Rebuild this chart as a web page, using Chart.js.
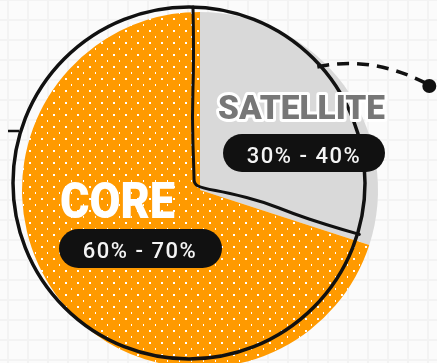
<!DOCTYPE html>
<html lang="en">
  <head>
    <meta charset="UTF-8" />
    <title>Core / Satellite</title>
    <style>
      html, body {
        margin: 0;
        padding: 0;
        overflow: hidden;
      }
      body {
        width: 437px;
        height: 363px;
        background-color: #fbfbfb;
        background-image:
          linear-gradient(to right, #f3f3f3 2px, transparent 2px),
          linear-gradient(to bottom, #f3f3f3 2px, transparent 2px);
        background-size: 20px 20px;
        background-position: 7px -1px;
      }
      .wrap {
        width: 437px;
        height: 380px;
      }
    </style>
  </head>
  <body>
    <div class="wrap">
      <canvas id="pie" width="437" height="380"></canvas>
    </div>
    <script src="https://cdn.jsdelivr.net/npm/chart.js"></script>
    <script>
      const labels = ["SATELLITE", "CORE"];
      const shares = [30, 70];
      const ranges = ["30% - 40%", "60% - 70%"];

      // white dot pattern for the orange slice
      function dotPattern() {
        const c = document.createElement("canvas");
        c.width = 12;
        c.height = 12;
        const g = c.getContext("2d");
        g.fillStyle = "#ff9a00";
        g.fillRect(0, 0, 12, 12);
        g.fillStyle = "#ffffff";
        g.fillRect(5, 6, 2, 2);
        g.fillRect(11, 0, 2, 2);
        return g.createPattern(c, "repeat");
      }

      function wobblyLine(ctx, pts) {
        ctx.beginPath();
        ctx.moveTo(pts[0][0], pts[0][1]);
        for (let i = 1; i < pts.length - 1; i++) {
          const mx = (pts[i][0] + pts[i + 1][0]) / 2;
          const my = (pts[i][1] + pts[i + 1][1]) / 2;
          ctx.quadraticCurveTo(pts[i][0], pts[i][1], mx, my);
        }
        const last = pts[pts.length - 1];
        ctx.lineTo(last[0], last[1]);
        ctx.stroke();
      }

      function fitText(ctx, text, x, y, width, fill, stroke) {
        const w = ctx.measureText(text).width;
        ctx.save();
        ctx.translate(x, y);
        ctx.scale(width / w, 1);
        if (stroke) {
          ctx.lineJoin = "round";
          ctx.strokeStyle = stroke;
          ctx.lineWidth = 6;
          ctx.strokeText(text, 0, 0);
        }
        ctx.fillStyle = fill;
        ctx.fillText(text, 0, 0);
        ctx.restore();
      }

      function pill(ctx, x, y, w, h) {
        ctx.beginPath();
        ctx.roundRect(x, y, w, h, h / 2);
        ctx.fillStyle = "#111";
        ctx.fill();
      }

      const sketch = {
        id: "sketch",
        afterDatasetsDraw(chart) {
          const ctx = chart.ctx;
          const arcs = chart.getDatasetMeta(0).data;
          const sat = arcs[0].getProps(["x", "y", "outerRadius", "startAngle", "endAngle"], true);
          const cx = sat.x - 11;
          const cy = sat.y - 7;
          const r = sat.outerRadius - 2;

          ctx.save();
          ctx.strokeStyle = "#111";
          ctx.lineCap = "round";
          ctx.lineJoin = "round";

          // outline
          ctx.lineWidth = 3.5;
          ctx.beginPath();
          ctx.arc(cx, cy, r, 0, Math.PI * 2);
          ctx.stroke();

          // dividers
          const hubX = cx + 5;
          const hubY = cy + 1;
          const topX = cx + r * Math.cos(sat.startAngle) + 4;
          const topY = cy + r * Math.sin(sat.startAngle);
          const endX = cx + r * Math.cos(sat.endAngle) + 3;
          const endY = cy + r * Math.sin(sat.endAngle) - 3;
          ctx.lineWidth = 3;
          wobblyLine(ctx, [
            [topX, topY],
            [topX + 1, topY + 50],
            [topX - 1, topY + 110],
            [hubX, hubY - 10],
            [hubX, hubY],
            [hubX + 8, hubY + 4],
            [hubX + 35, hubY + 9],
            [hubX + 70, hubY + 18],
            [hubX + 100, hubY + 30],
            [hubX + 130, hubY + 40],
            [endX, endY]
          ]);

          // connector from the satellite slice
          const a = -0.72;
          const sx = cx + r * Math.cos(a);
          const sy = cy + r * Math.sin(a);
          ctx.lineWidth = 3.5;
          ctx.lineCap = "butt";
          ctx.setLineDash([12, 8]);
          ctx.beginPath();
          ctx.moveTo(sx - 4, sy);
          ctx.quadraticCurveTo(sx + 50, sy - 12, sx + 106, sy + 17);
          ctx.stroke();
          ctx.setLineDash([]);
          ctx.fillStyle = "#111";
          ctx.beginPath();
          ctx.arc(sx + 108, sy + 19, 7, 0, Math.PI * 2);
          ctx.fill();

          // little tick on the left
          ctx.lineWidth = 2.5;
          ctx.beginPath();
          ctx.moveTo(8, 131);
          ctx.lineTo(19, 131);
          ctx.stroke();

          // labels
          const x0 = sat.x;
          const y0 = sat.y;
          ctx.textBaseline = "alphabetic";
          ctx.font = "900 34px Roboto";
          fitText(ctx, labels[0], x0 + 18, y0 - 71, 167, "#777777", "#ffffff");
          ctx.font = "900 50px Roboto";
          fitText(ctx, labels[1], x0 - 140, y0 + 28, 115, "#ffffff", null);

          pill(ctx, x0 + 23, y0 - 56, 162, 38);
          pill(ctx, x0 - 141, y0 + 39, 163, 39);
          ctx.font = "500 22px Roboto";
          ctx.letterSpacing = "1.5px";
          ctx.textAlign = "center";
          ctx.fillStyle = "#f4f4f4";
          ctx.fillText(ranges[0], x0 + 104, y0 - 27);
          ctx.fillText(ranges[1], x0 - 60, y0 + 68);
          ctx.restore();
        }
      };

      new Chart(document.getElementById("pie"), {
        type: "pie",
        data: {
          labels: labels,
          datasets: [
            {
              data: shares,
              backgroundColor: ["#d9d9d9", dotPattern()],
              borderWidth: 0,
              hoverOffset: 0
            }
          ]
        },
        options: {
          responsive: false,
          animation: false,
          events: [],
          layout: { padding: { left: 22, right: 59, top: 12, bottom: 12 } },
          plugins: {
            legend: { display: false },
            tooltip: { enabled: false }
          }
        },
        plugins: [sketch]
      });
    </script>
  </body>
</html>
